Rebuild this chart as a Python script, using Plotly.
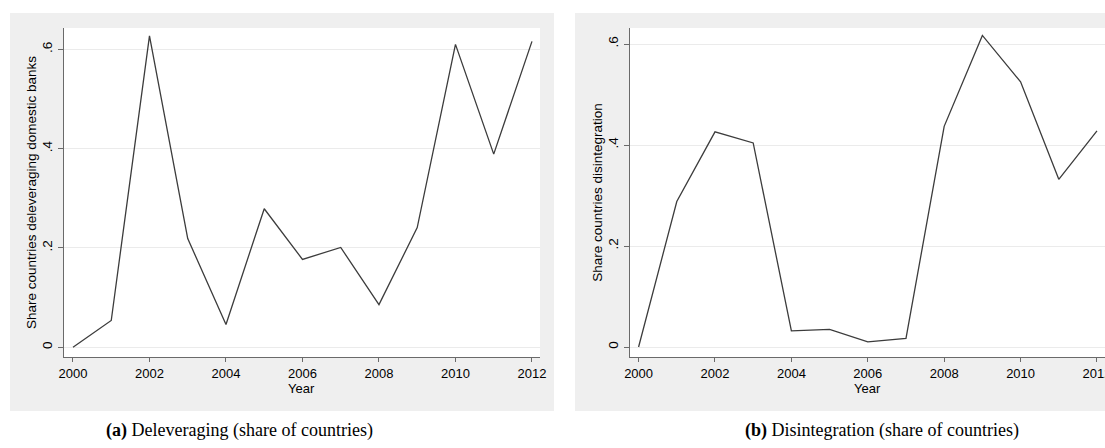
import plotly.graph_objects as go

years = list(range(2000, 2013))
deleveraging = [0.0, 0.054, 0.627, 0.219, 0.046, 0.279, 0.177, 0.201, 0.086, 0.241, 0.610, 0.389, 0.616]
disintegration = [0.0, 0.288, 0.426, 0.404, 0.032, 0.035, 0.010, 0.017, 0.437, 0.617, 0.525, 0.332, 0.428]
ytick_vals = [0, 0.2, 0.4, 0.6]
ytick_text = ["0", ".2", ".4", ".6"]
xtick_vals = [2000, 2002, 2004, 2006, 2008, 2010, 2012]
x_title = "Year"
y_titles = ["Share countries deleveraging domestic banks", "Share countries disintegration"]
captions = ["<b>(a)</b> Deleveraging (share of countries)", "<b>(b)</b> Disintegration (share of countries)"]

W, H = 1105, 448
def fx(px): return px / W
def fy(py): return 1 - py / H

LINE = "#3c3c3c"
AX = "#6a6a6a"
GRID = "#ebebeb"
PANEL = "#efefef"
FONT = "Liberation Sans, Arial, sans-serif"

fig = go.Figure()
fig.add_trace(go.Scatter(x=years, y=deleveraging, mode="lines", line=dict(color=LINE, width=1.3),
                         xaxis="x", yaxis="y", showlegend=False, hoverinfo="skip"))
fig.add_trace(go.Scatter(x=years, y=disintegration, mode="lines", line=dict(color=LINE, width=1.3),
                         xaxis="x2", yaxis="y2", showlegend=False, hoverinfo="skip"))

# panel geometry (pixels)
panels = [
    dict(gray=(10, 13, 554, 411), plot=(64, 28, 540, 357), xr=[1999.765, 2012.21], yr=[-0.0195, 0.6429]),
    dict(gray=(575, 13, 1105, 411), plot=(630, 28, 1105, 357), xr=[1999.775, 2012.21], yr=[-0.0198, 0.6317]),
]

shapes = []
for p in panels:
    gx0, gy0, gx1, gy1 = p["gray"]
    shapes.append(dict(type="rect", xref="paper", yref="paper", x0=fx(gx0), x1=fx(gx1), y0=fy(gy1), y1=fy(gy0),
                       fillcolor=PANEL, line=dict(width=0), layer="below"))
    px0, py0, px1, py1 = p["plot"]
    shapes.append(dict(type="rect", xref="paper", yref="paper", x0=fx(px0), x1=fx(px1), y0=fy(py1), y1=fy(py0),
                       fillcolor="white", line=dict(width=0), layer="below"))

layout = dict(width=W, height=H, margin=dict(l=0, r=0, t=0, b=0, autoexpand=False), paper_bgcolor="white",
              plot_bgcolor="white", shapes=shapes, font=dict(family=FONT, size=13, color="black"))

annotations = []
for i, p in enumerate(panels):
    sfx = "" if i == 0 else str(i + 1)
    px0, py0, px1, py1 = p["plot"]
    layout["xaxis" + sfx] = dict(domain=[fx(px0), fx(px1)], range=p["xr"], anchor="y" + sfx,
                                 tickvals=xtick_vals, ticks="outside", ticklen=4, tickcolor=AX,
                                 showline=True, linecolor=AX, linewidth=1.3, showgrid=False, zeroline=False,
                                 tickfont=dict(size=13, family=FONT), ticklabeloverflow="allow",
                                 automargin=False)
    layout["yaxis" + sfx] = dict(domain=[fy(py1), fy(py0)], range=p["yr"], anchor="x" + sfx,
                                 tickvals=ytick_vals, ticktext=ytick_text, tickangle=-90,
                                 ticks="outside", ticklen=5, tickcolor=AX, ticklabelstandoff=0,
                                 showline=True, linecolor=AX, linewidth=1.3, automargin=False,
                                 showgrid=True, gridcolor=GRID, gridwidth=1.3, zeroline=False,
                                 tickfont=dict(size=13.5, family=FONT),
                                 title=dict(text=y_titles[i], standoff=0, font=dict(size=13.5, family=FONT)))
    annotations.append(dict(text=x_title, xref="paper", yref="paper", x=fx((px0 + px1) / 2), y=fy(388),
                            showarrow=False, xanchor="center", yanchor="middle",
                            font=dict(size=13, family=FONT, color="black")))

annotations += [
    dict(text=captions[0], xref="paper", yref="paper", x=fx(239), y=fy(430), showarrow=False,
         xanchor="center", yanchor="middle", font=dict(family="Liberation Serif, serif", size=18, color="black")),
    dict(text=captions[1], xref="paper", yref="paper", x=fx(882), y=fy(430), showarrow=False,
         xanchor="center", yanchor="middle", font=dict(family="Liberation Serif, serif", size=18, color="black")),
]
layout["annotations"] = annotations

fig.update_layout(**layout)
fig.write_html("out.html", config={"displayModeBar": False},
               post_script="document.body.style.margin='0';document.body.style.padding='0';"
                           "document.body.style.overflow='hidden';")
